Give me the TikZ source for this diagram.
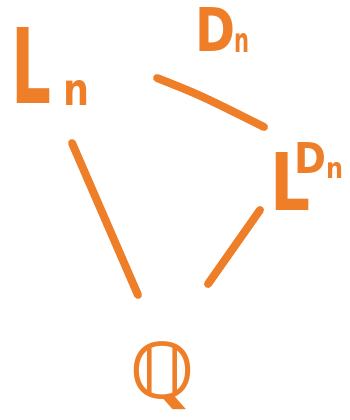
\documentclass[tikz,border=0pt]{standalone}
\usepackage{fontspec}
\setmainfont{DejaVu Sans}
\definecolor{ink}{RGB}{238,127,40}
\tikzset{
  glyph/.style={inner sep=0pt, outer sep=0pt, anchor=base west, text=ink, font=\bfseries},
  stroke/.style={draw=ink, line width=8pt, line cap=round}
}
\begin{document}
\begin{tikzpicture}[x=1pt,y=-1pt]
\useasboundingbox (0,0) rectangle (349,420);
% L_n
\node[glyph] (Ln) at (12,103) {\resizebox{40pt}{76pt}{L}\hspace{11pt}\raisebox{-2pt}{\resizebox{26pt}{25pt}{n}}};
% D_n
\node[glyph] (Dn) at (195,52) {\resizebox{40pt}{44pt}{D}\hspace{-1pt}\raisebox{-1pt}{\resizebox{15pt}{19pt}{n}}};
% L^{D_n}
\node[glyph] (LDn) at (270,210) {\resizebox{40pt}{58pt}{L}\hspace{-16pt}\raisebox{37pt}{\resizebox{32pt}{31pt}{D}}\raisebox{32pt}{\resizebox{17pt}{16pt}{n}}};
% Q
\node[glyph, anchor=north west] (Q) at (130,342) {\resizebox*{64pt}{68pt}{ℚ}};
% connector ends
\coordinate (a1) at (72,143);
\coordinate (a2) at (138,295);
\coordinate (b1) at (157,78);
\coordinate (b2) at (264,127);
\coordinate (c1) at (260,210);
\coordinate (c2) at (208,284);
\draw[stroke] (a1) -- (a2);
\draw[stroke] (b1) .. controls (200,95) .. (b2);
\draw[stroke] (c1) -- (c2);
\end{tikzpicture}
\end{document}
